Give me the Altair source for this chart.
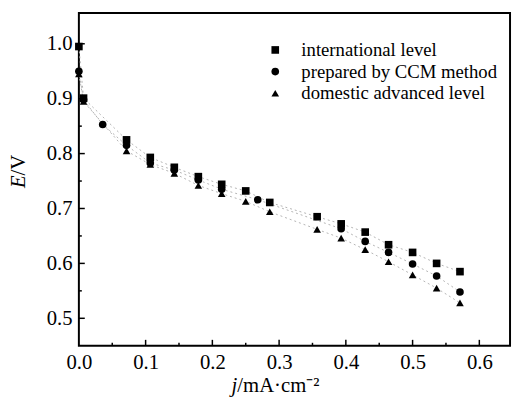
import altair as alt
import pandas as pd

# ---- data ----
series_names = ["international level", "prepared by CCM method", "domestic advanced level"]

x_intl = [0.0, 0.007, 0.0714, 0.107, 0.143, 0.179, 0.214, 0.25, 0.286, 0.357, 0.393, 0.429, 0.464, 0.5, 0.536, 0.571]
e_intl = [0.995, 0.901, 0.825, 0.793, 0.775, 0.758, 0.744, 0.732, 0.711, 0.685, 0.672, 0.657, 0.634, 0.620, 0.600, 0.585]

x_ccm = [0.0, 0.007, 0.0357, 0.0714, 0.107, 0.143, 0.179, 0.214, 0.268, 0.393, 0.429, 0.464, 0.5, 0.536, 0.571]
e_ccm = [0.950, 0.898, 0.853, 0.815, 0.783, 0.770, 0.752, 0.735, 0.716, 0.663, 0.640, 0.620, 0.599, 0.577, 0.548]

x_dom = [0.0, 0.007, 0.0714, 0.107, 0.143, 0.179, 0.214, 0.25, 0.286, 0.357, 0.393, 0.429, 0.464, 0.5, 0.536, 0.571]
e_dom = [0.945, 0.895, 0.805, 0.780, 0.764, 0.742, 0.727, 0.713, 0.694, 0.662, 0.646, 0.625, 0.603, 0.579, 0.555, 0.528]

x_major = [0.0, 0.1, 0.2, 0.3, 0.4, 0.5, 0.6]
x_minor = [0.05, 0.15, 0.25, 0.35, 0.45, 0.55]
y_major = [0.5, 0.6, 0.7, 0.8, 0.9, 1.0]
y_minor = [0.55, 0.65, 0.75, 0.85, 0.95]

rows = []
for name, xs, es in zip(series_names, [x_intl, x_ccm, x_dom], [e_intl, e_ccm, e_dom]):
    for xv, ev in zip(xs, es):
        rows.append({"series": name, "j": xv, "E": ev})
df = pd.DataFrame(rows)

W, H = 438, 338
FONT = "Liberation Serif"

xscale = alt.Scale(domain=[0, 0.646], nice=False, zero=False)
yscale = alt.Scale(domain=[0.45, 1.056], nice=False, zero=False)

xaxis = alt.Axis(values=x_major, format=".1f", title=None, domain=False, ticks=False, grid=False,
                 labelFont=FONT, labelFontSize=21, labelColor="black", labelPadding=6,
                 labelFlush=False, labelOverlap=False)
yaxis = alt.Axis(values=y_major, format=".1f", title=None, domain=False, ticks=False, grid=False,
                 labelFont=FONT, labelFontSize=21, labelColor="black", labelPadding=7,
                 labelFlush=False, labelOverlap=False)

X = alt.X("j:Q", scale=xscale, axis=xaxis)
Y = alt.Y("E:Q", scale=yscale, axis=yaxis)

shape_scale = alt.Scale(domain=series_names, range=["square", "circle", "triangle-up"])

lines = alt.Chart(df).mark_line(color="#b4b4b4", strokeWidth=1, strokeDash=[2, 3]).encode(
    x=X, y=Y, detail="series:N", order="j:Q"
)

points = alt.Chart(df).mark_point(filled=True, size=60, color="black", opacity=1).encode(
    x=X, y=Y,
    shape=alt.Shape("series:N", scale=shape_scale, sort=series_names,
                    legend=alt.Legend(title=None, orient="none", legendX=190, legendY=28,
                                      labelFont=FONT, labelFontSize=19, labelColor="black",
                                      labelOffset=17, labelLimit=0, rowPadding=2, padding=0,
                                      symbolSize=60, symbolFillColor="black",
                                      symbolStrokeColor="black", symbolStrokeWidth=0)),
)

xt_major = alt.Chart(pd.DataFrame({"v": x_major[1:]})).mark_rule(color="black", strokeWidth=1.5).encode(
    x=alt.X("v:Q", scale=xscale, axis=xaxis), y=alt.value(H), y2=alt.value(H - 6))
xt_minor = alt.Chart(pd.DataFrame({"v": x_minor})).mark_rule(color="black", strokeWidth=1.5).encode(
    x=alt.X("v:Q", scale=xscale, axis=xaxis), y=alt.value(H), y2=alt.value(H - 3))
yt_major = alt.Chart(pd.DataFrame({"v": y_major})).mark_rule(color="black", strokeWidth=1.5).encode(
    y=alt.Y("v:Q", scale=yscale, axis=yaxis), x=alt.value(0), x2=alt.value(6))
yt_minor = alt.Chart(pd.DataFrame({"v": y_minor})).mark_rule(color="black", strokeWidth=1.5).encode(
    y=alt.Y("v:Q", scale=yscale, axis=yaxis), x=alt.value(0), x2=alt.value(3))

def label(text, x, y, italic=False, angle=0, align="left", baseline="alphabetic"):
    kw = dict(font=FONT, fontSize=21, color="black", align=align, baseline=baseline)
    if italic:
        kw["fontStyle"] = "italic"
    if angle:
        kw["angle"] = angle
    return alt.Chart(pd.DataFrame({"t": [text]})).mark_text(**kw).encode(
        text="t:N", x=alt.value(x), y=alt.value(y))

ytitle_a = label("E", -61, 165, italic=True, angle=270, align="right", baseline="middle")
ytitle_b = label("/V", -61, 165, angle=270, align="left", baseline="middle")
xtitle_a = label("j", 161, 385, italic=True, align="right")
xtitle_b = label("/mA·cm⁻²", 161, 385, align="left")

chart = alt.layer(
    lines, xt_major, xt_minor, yt_major, yt_minor, points,
    ytitle_a, ytitle_b, xtitle_a, xtitle_b
).properties(
    width=W, height=H,
    autosize=alt.AutoSizeParams(type="none"),
    padding={"left": 72, "top": 2, "right": 2, "bottom": 52},
    background="white",
).configure(
    font=FONT
).configure_axis(
    labelFont=FONT, labelFontSize=21, labelColor="black"
).configure_legend(
    labelFont=FONT, labelFontSize=19, labelColor="black", labelLimit=0
).configure_view(stroke="black", strokeWidth=2)

chart.save("out.html", embed_options={"renderer": "svg", "actions": False})
